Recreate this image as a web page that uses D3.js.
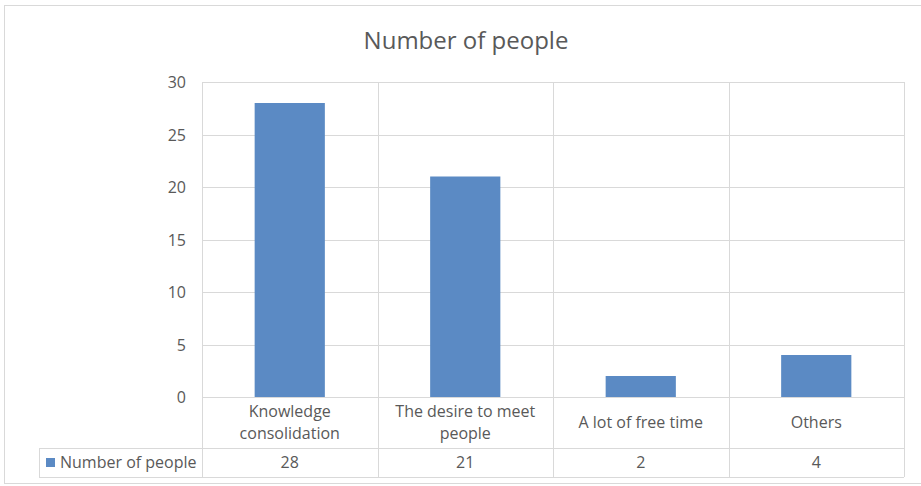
<!DOCTYPE html>
<html>
<head>
<meta charset="utf-8">
<script src="https://cdn.jsdelivr.net/npm/d3@7"></script>
<style>
  body { margin: 0; background: #fff; }
  text { font-family: "Open Sans", "Noto Sans", sans-serif; fill: #595959; }
</style>
</head>
<body>
<svg id="chart" width="921" height="486"></svg>
<script>
// chart data
var categories = [["Knowledge", "consolidation"], ["The desire to meet", "people"], ["A lot of free time"], ["Others"]];
var values = [28, 21, 2, 4];
var seriesName = "Number of people";
var yTicks = [0, 5, 10, 15, 20, 25, 30];

function drawChart() {
	var svg = d3.select("#chart");
	var plotLeft = 202, plotRight = 904, plotTop = 82, plotBottom = 397;
	var tableRow = 448, tableBottom = 477, tableLeft = 39;
	var grid = "#d9d9d9";
	var barFill = "#5b8ac4";

	// outer chart border
	svg.append("rect")
		.attr("x", 4.5).attr("y", 5.5)
		.attr("width", 930).attr("height", 478)
		.style("fill", "none").style("stroke", grid);

	svg.append("text")
		.attr("x", 466).attr("y", 49)
		.style("text-anchor", "middle")
		.style("font-size", "24px")
		.text("Number of people");

	var x = d3.scaleBand()
		.domain(d3.range(values.length))
		.range([plotLeft, plotRight])
		.padding(0);

	var y = d3.scaleLinear()
		.domain([0, 30])
		.range([plotBottom, plotTop]);

	// horizontal grid lines
	svg.append("g").selectAll("line")
		.data(yTicks)
		.enter().append("line")
		.attr("x1", plotLeft).attr("x2", plotRight)
		.attr("y1", function (d) { return Math.round(y(d)) + 0.5; })
		.attr("y2", function (d) { return Math.round(y(d)) + 0.5; })
		.style("stroke", grid);

	// y tick labels
	svg.append("g").selectAll("text")
		.data(yTicks)
		.enter().append("text")
		.attr("x", 186)
		.attr("y", function (d) { return y(d) + 6; })
		.style("text-anchor", "end")
		.style("font-size", "16px")
		.text(function (d) { return d; });

	// vertical dividers (plot + data table)
	var dividers = x.domain().map(function (d) { return x(d); }).concat([plotRight]);
	svg.append("g").selectAll("line")
		.data(dividers)
		.enter().append("line")
		.attr("x1", function (d) { return Math.round(d) + 0.5; })
		.attr("x2", function (d) { return Math.round(d) + 0.5; })
		.attr("y1", plotTop)
		.attr("y2", tableBottom)
		.style("stroke", grid);

	// bars
	var barW = x.bandwidth() * 0.4;
	svg.append("g").selectAll("rect")
		.data(values)
		.enter().append("rect")
		.attr("x", function (d, i) { return x(i) + (x.bandwidth() - barW) / 2; })
		.attr("y", function (d) { return y(d); })
		.attr("width", barW)
		.attr("height", function (d) { return y(0) - y(d); })
		.style("fill", barFill);

	// data table lines
	svg.append("line")
		.attr("x1", tableLeft).attr("x2", plotRight)
		.attr("y1", tableRow + 0.5).attr("y2", tableRow + 0.5)
		.style("stroke", grid);
	svg.append("line")
		.attr("x1", tableLeft).attr("x2", plotRight)
		.attr("y1", tableBottom + 0.5).attr("y2", tableBottom + 0.5)
		.style("stroke", grid);
	svg.append("line")
		.attr("x1", tableLeft + 0.5).attr("x2", tableLeft + 0.5)
		.attr("y1", tableRow).attr("y2", tableBottom)
		.style("stroke", grid);

	// category labels
	var catText = svg.append("g").selectAll("text")
		.data(categories)
		.enter().append("text")
		.attr("x", function (d, i) { return x(i) + x.bandwidth() / 2; })
		.attr("y", function (d) { return d.length > 1 ? 417 : 428; })
		.style("text-anchor", "middle")
		.style("font-size", "16px");
	catText.selectAll("tspan")
		.data(function (d) { return d; })
		.enter().append("tspan")
		.attr("x", function () { return d3.select(this.parentNode).attr("x"); })
		.attr("dy", function (d, i) { return i === 0 ? 0 : 22; })
		.text(function (d) { return d; });

	// legend key in table
	svg.append("rect")
		.attr("x", 46).attr("y", 458)
		.attr("width", 9).attr("height", 9)
		.style("fill", barFill);
	svg.append("text")
		.attr("x", 60).attr("y", 468)
		.style("font-size", "16px")
		.text(seriesName);

	// table values
	svg.append("g").selectAll("text")
		.data(values)
		.enter().append("text")
		.attr("x", function (d, i) { return x(i) + x.bandwidth() / 2; })
		.attr("y", 468)
		.style("text-anchor", "middle")
		.style("font-size", "16px")
		.text(function (d) { return d; });
}

drawChart();
</script>
</body>
</html>
